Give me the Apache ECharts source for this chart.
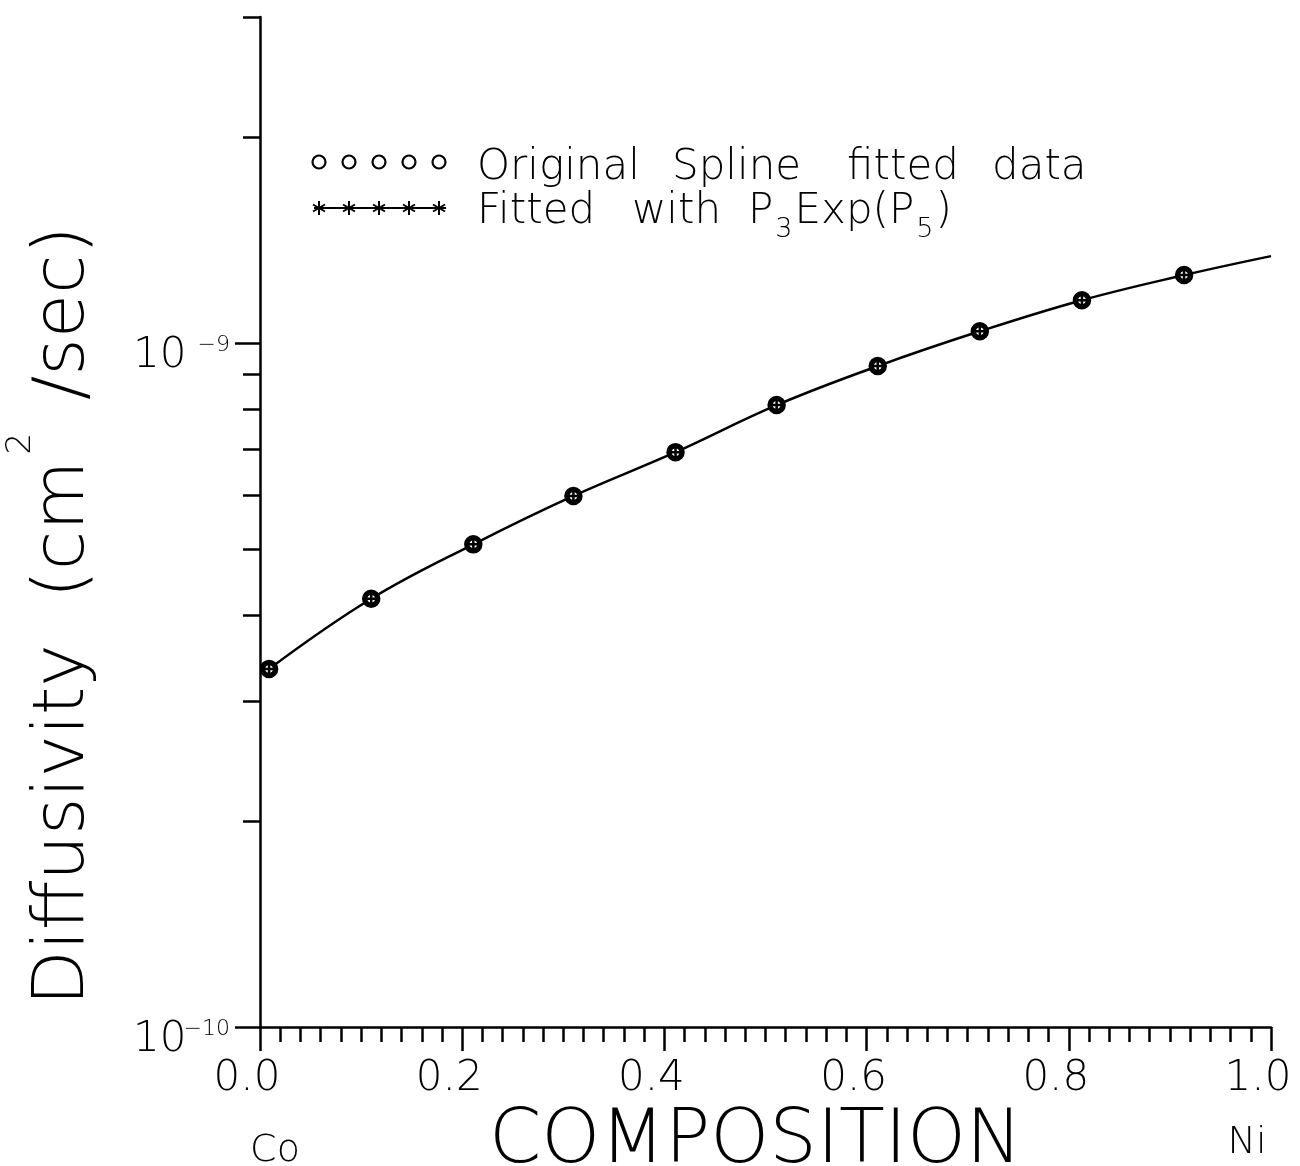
<!DOCTYPE html>
<html>
<head>
<meta charset="utf-8">
<script src="https://cdn.jsdelivr.net/npm/echarts@6/dist/echarts.min.js"></script>
<style>
  html, body { margin: 0; padding: 0; background: #fff; }
  #chart { width: 1300px; height: 1166px; }
</style>
</head>
<body>
<div id="chart"></div>
<script>
// Composition (mole fraction Ni) of the tabulated points
const composition = [0.009, 0.110, 0.211, 0.310, 0.411, 0.511, 0.611, 0.712, 0.813, 0.914];
// Interdiffusivity from the spline fit of the original data (cm^2/sec)
const splineD = [3.34e-10, 4.23e-10, 5.08e-10, 5.98e-10, 6.93e-10, 8.12e-10, 9.26e-10, 1.041e-9, 1.156e-9, 1.258e-9];
// Same points evaluated with the P3*Exp(P5) fit
const fittedD = [3.34e-10, 4.23e-10, 5.08e-10, 5.98e-10, 6.93e-10, 8.12e-10, 9.26e-10, 1.041e-9, 1.156e-9, 1.258e-9];
// Continuous fitted curve, run out to pure Ni
const curveX = [0.009, 0.110, 0.211, 0.310, 0.411, 0.511, 0.611, 0.712, 0.813, 0.914, 1.0];
const curveD = [3.34e-10, 4.23e-10, 5.08e-10, 5.98e-10, 6.93e-10, 8.12e-10, 9.26e-10, 1.041e-9, 1.156e-9, 1.258e-9, 1.341e-9];
// Axis ticks
const yDecades = [1e-10, 1e-9];
const yMinor = [2e-10, 3e-10, 4e-10, 5e-10, 6e-10, 7e-10, 8e-10, 9e-10, 2e-9, 3e-9];

const FONT = '"DejaVu Sans", Lato, sans-serif';
const W = 200;
const INK = '#000';

const chart = echarts.init(document.getElementById('chart'), null, { renderer: 'canvas' });

const pairs = (xs, ys) => xs.map((x, i) => [x, ys[i]]);

const crossPath = 'path://M0,-1L0,1M-1,0L1,0';

// legend layout
const legendX = [319, 349, 379, 409, 439];
const legendFont = W + ' 42px ' + FONT;
const word = (text, x, y) => ({
  type: 'text', x: x, y: y,
  style: { text: text, font: legendFont, fill: INK, textVerticalAlign: 'bottom' }
});
const star = cx => [
  { type: 'line', shape: { x1: cx, y1: 201, x2: cx, y2: 215 }, style: { stroke: INK, lineWidth: 2 } },
  { type: 'line', shape: { x1: cx - 6, y1: 204.5, x2: cx + 6, y2: 211.5 }, style: { stroke: INK, lineWidth: 2 } },
  { type: 'line', shape: { x1: cx - 6, y1: 211.5, x2: cx + 6, y2: 204.5 }, style: { stroke: INK, lineWidth: 2 } }
];

const option = {
  backgroundColor: '#fff',
  animation: false,
  textStyle: { fontFamily: FONT, color: INK, fontWeight: W },
  grid: { left: 260, right: 29, top: 17, bottom: 139, containLabel: false, outerBoundsMode: 'none' },
  xAxis: {
    type: 'value',
    min: 0, max: 1, interval: 0.2,
    name: 'COMPOSITION',
    nameLocation: 'middle',
    nameGap: 73,
    nameTextStyle: { fontSize: 75, fontFamily: FONT, fontWeight: W, color: INK, padding: [0, 20, 0, 0] },
    axisLine: { show: true, lineStyle: { color: INK, width: 2.5 } },
    axisTick: { show: true, inside: false, length: 24, lineStyle: { color: INK, width: 2.5 } },
    minorTick: { show: true, splitNumber: 10, length: 15, lineStyle: { color: INK, width: 2.5 } },
    axisLabel: {
      margin: 31, fontSize: 42, fontFamily: FONT, fontWeight: W, color: INK,
      padding: [0, 26, 0, 0],
      formatter: v => v.toFixed(1)
    },
    splitLine: { show: false }
  },
  yAxis: [
    {
      type: 'log', logBase: 10,
      min: 1e-10, max: 3e-9,
      position: 'left',
      name: '{t|Diffusivity  (cm}{s|2}{t| /sec)}',
      nameLocation: 'middle',
      nameRotate: 90,
      nameGap: 136,
      nameTextStyle: {
        padding: [0, 188, 0, 0],
        rich: {
          t: { fontSize: 72, fontFamily: FONT, fontWeight: W, color: INK, lineHeight: 120 },
          s: { fontSize: 34, fontFamily: FONT, fontWeight: W, color: INK, lineHeight: 52, verticalAlign: 'top', padding: [0, 10, 0, 6] }
        }
      },
      axisLine: { show: true, lineStyle: { color: INK, width: 2.5 } },
      axisTick: { show: true, inside: false, length: 25, customValues: yDecades, lineStyle: { color: INK, width: 2.5 } },
      axisLabel: {
        show: true,
        customValues: yDecades,
        margin: 30,
        padding: [26, 0, 0, 0],
        formatter: v => '{b|10}{e|−' + Math.round(-Math.log10(v)) + '}',
        rich: {
          b: { fontSize: 42, fontFamily: FONT, fontWeight: W, color: INK, lineHeight: 44, width: 47, align: 'left' },
          e: { fontSize: 22, fontFamily: FONT, fontWeight: W, color: INK, lineHeight: 2, width: 50, align: 'right', verticalAlign: 'top' }
        }
      },
      splitLine: { show: false },
      minorTick: { show: false }
    },
    {
      type: 'log', logBase: 10,
      min: 1e-10, max: 3e-9,
      position: 'left',
      axisLine: { show: false },
      axisTick: { show: true, inside: false, length: 17, customValues: yMinor, lineStyle: { color: INK, width: 2.5 } },
      axisLabel: { show: false },
      splitLine: { show: false }
    }
  ],
  series: [
    {
      name: 'Fitted curve',
      type: 'line',
      yAxisIndex: 0,
      data: pairs(curveX, curveD),
      smooth: 0.4,
      showSymbol: false,
      symbol: 'none',
      lineStyle: { color: INK, width: 2.5 },
      z: 2
    },
    {
      name: 'Original Spline fitted data',
      type: 'scatter',
      yAxisIndex: 0,
      data: pairs(composition, splineD),
      symbol: 'circle',
      symbolSize: 13,
      itemStyle: { color: '#fff', borderColor: INK, borderWidth: 5.5, opacity: 1 },
      z: 3
    },
    {
      name: 'Fitted with P3Exp(P5)',
      type: 'scatter',
      yAxisIndex: 0,
      data: pairs(composition, fittedD),
      symbol: crossPath,
      symbolSize: 11,
      itemStyle: { color: 'none', borderColor: INK, borderWidth: 2.5, opacity: 1 },
      z: 4
    }
  ],
  graphic: [
    // legend row 1: open circles
    ...legendX.map(cx => ({
      type: 'circle', shape: { cx: cx, cy: 162, r: 6.5 },
      style: { fill: 'none', stroke: INK, lineWidth: 2.2 }
    })),
    word('Original', 477, 189),
    word('Spline', 672, 189),
    word('fitted', 847, 189),
    word('data', 992, 189),
    // legend row 2: line with star marks
    {
      type: 'line', shape: { x1: 314, y1: 208, x2: 446, y2: 208 },
      style: { stroke: INK, lineWidth: 2.2 }
    },
    ...legendX.flatMap(star),
    word('Fitted', 477, 233),
    word('with', 632, 233),
    {
      type: 'text', x: 748, y: 243,
      style: {
        text: '{n|P}{s|3}{n|Exp(P}{s|5}{n|)}',
        textVerticalAlign: 'bottom',
        rich: {
          n: { font: legendFont, fill: INK, lineHeight: 52, verticalAlign: 'top' },
          s: { font: W + ' 27px ' + FONT, fill: INK, lineHeight: 52, verticalAlign: 'bottom', padding: [0, 2, 0, 2] }
        }
      }
    },
    // end-member labels under the composition axis
    {
      type: 'text', x: 275, y: 1151,
      style: { text: 'Co', font: W + ' 38px ' + FONT, fill: INK, textAlign: 'center', textVerticalAlign: 'middle' }
    },
    {
      type: 'text', x: 1247, y: 1143,
      style: { text: 'Ni', font: W + ' 38px ' + FONT, fill: INK, textAlign: 'center', textVerticalAlign: 'middle' }
    }
  ]
};

chart.setOption(option);
</script>
</body>
</html>
